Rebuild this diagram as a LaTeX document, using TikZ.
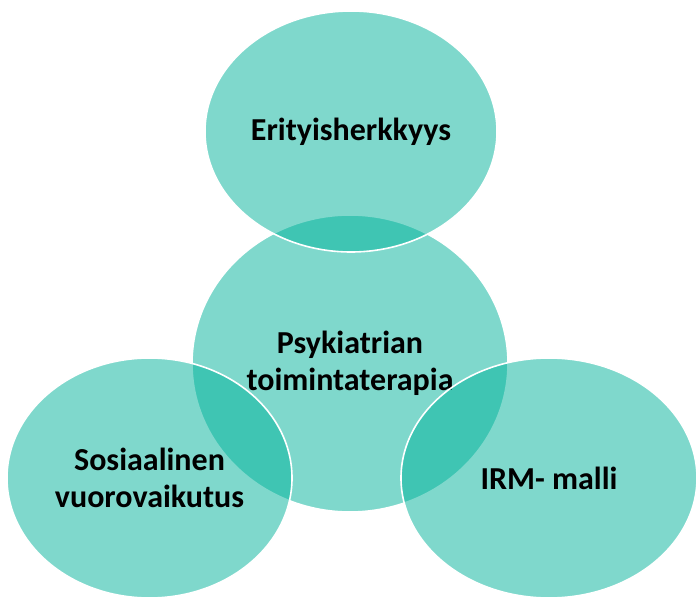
\documentclass[tikz,border=0pt]{standalone}
\usepackage{fontspec}
\setmainfont{Carlito}
\usetikzlibrary{shapes.geometric}
\definecolor{tealfill}{RGB}{0,178,154}
\begin{document}
\begin{tikzpicture}[x=0.75pt, y=-0.75pt,
  bubble/.style={ellipse, draw=white, line width=1.2pt, fill=tealfill,
    fill opacity=0.5, text opacity=1, inner sep=0pt, align=center,
    font=\fontsize{24}{28}\selectfont\bfseries}]
  \clip (0,0) rectangle (696,598);

  % middle one first, the others lie over it
  \node [bubble, minimum width=237pt, minimum height=222.75pt] (ota) at (350,363.5)
    {Psykiatrian\\toimintaterapia};
  \node [bubble, minimum width=219pt, minimum height=180.75pt] (eri) at (351,131.5)
    {Erityisherkkyys};
  \node [bubble, minimum width=213.75pt, minimum height=180pt] (sos) at (149.5,478)
    {Sosiaalinen\\vuorovaikutus};
  \node [bubble, minimum width=222pt, minimum height=180pt] (irm) at (549,478)
    {IRM- malli};
\end{tikzpicture}
\end{document}
